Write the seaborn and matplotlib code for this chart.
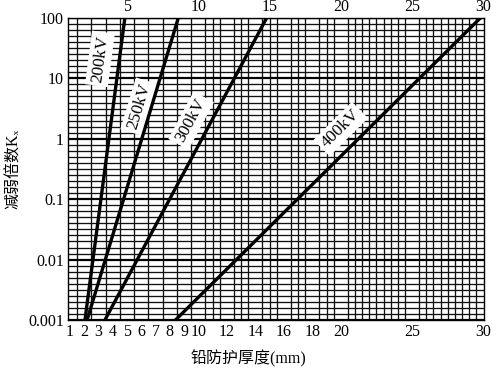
import numpy as np
import pandas as pd
import matplotlib
matplotlib.use("Agg")
import matplotlib.pyplot as plt
from matplotlib.ticker import MultipleLocator, FixedLocator, NullFormatter
import seaborn as sns

# ---- data ----
voltages = ["200kV", "250kV", "300kV", "400kV"]
kx_ends = [0.001, 100]
lead_200 = [2.05, 4.85]
lead_250 = [2.2, 8.6]
lead_300 = [3.45, 14.8]
lead_400 = [8.4, 29.8]

bottom_ticks = [1, 2, 3, 4, 5, 6, 7, 8, 9, 10, 12, 14, 16, 18, 20, 25, 30]
top_ticks = [5, 10, 15, 20, 25, 30]
y_ticks = [0.001, 0.01, 0.1, 1, 10, 100]
y_ticklabels = ["0.001", "0.01", "0.1", "1", "10", "100"]

label_x = [3.1, 5.85, 9.5, 20.0]
label_y = [21.0, 3.4, 2.0, 1.45]

rows = []
for v, xs in zip(voltages, [lead_200, lead_250, lead_300, lead_400]):
    for x, y in zip(xs, kx_ends):
        rows.append({"kv": v, "t": x, "k": y})
df = pd.DataFrame(rows)

sns.set_theme(style="white")
plt.rcParams["font.family"] = ["Liberation Serif", "Noto Sans CJK SC", "DejaVu Serif"]

fig = plt.figure(figsize=(5, 3.73), dpi=100)
ax = fig.add_axes([0.136, 0.142, 0.832, 0.810])

sns.lineplot(data=df, x="t", y="k", hue="kv", palette=["black"] * 4,
             linewidth=2.4, legend=False, ax=ax, estimator=None)
for ln in ax.lines:
    ln.set_zorder(4)
ax.set_yscale("log")
ax.set_xlim(0.86, 30.05)
ax.set_ylim(0.001, 100)

# dense graph-paper grid
ax.xaxis.set_major_locator(FixedLocator(bottom_ticks))
ax.xaxis.set_minor_locator(MultipleLocator(0.5))
ax.yaxis.set_major_locator(FixedLocator(y_ticks))
ax.yaxis.set_minor_locator(FixedLocator([10 ** (n / 10) for n in range(-30, 21)]))
ax.yaxis.set_minor_formatter(NullFormatter())
ax.set_yticklabels(y_ticklabels)
ax.set_xticklabels([str(t) for t in bottom_ticks])
ax.grid(True, which="minor", color="#111111", linewidth=0.95)
ax.xaxis.grid(False, which="major")
ax.yaxis.grid(True, which="major", color="black", linewidth=1.6)
ax.set_axisbelow(True)
for s in ax.spines.values():
    s.set_color("black")
    s.set_linewidth(1.0)
ax.tick_params(which="both", length=0, labelsize=11.5, colors="black", pad=3)

sec = ax.secondary_xaxis("top")
sec.set_xticks(top_ticks)
sec.set_xticklabels([str(t) for t in top_ticks])
sec.tick_params(length=0, labelsize=11.5, colors="black", pad=2)
sec.spines["top"].set_visible(False)

ax.set_xlabel("铅防护厚度(mm)", fontsize=11.5, color="black")
ax.xaxis.set_label_coords(0.433, -0.10)
ax.set_ylabel("减弱倍数Kₓ", fontsize=11.5, color="black")
ax.yaxis.set_label_coords(-0.11, 0.5)

# rotated labels along lines
for v, xs, lx, ly in zip(voltages, [lead_200, lead_250, lead_300, lead_400], label_x, label_y):
    p0 = ax.transData.transform((xs[0], kx_ends[0]))
    p1 = ax.transData.transform((xs[1], kx_ends[1]))
    ang = np.degrees(np.arctan2(p1[1] - p0[1], p1[0] - p0[0]))
    ax.text(lx, ly, v, rotation=ang, rotation_mode="anchor", ha="center", va="center",
            fontsize=12.5, color="black", zorder=3,
            bbox=dict(boxstyle="square,pad=0.2", fc="white", ec="none"))

fig.savefig("out.png", dpi=100)
